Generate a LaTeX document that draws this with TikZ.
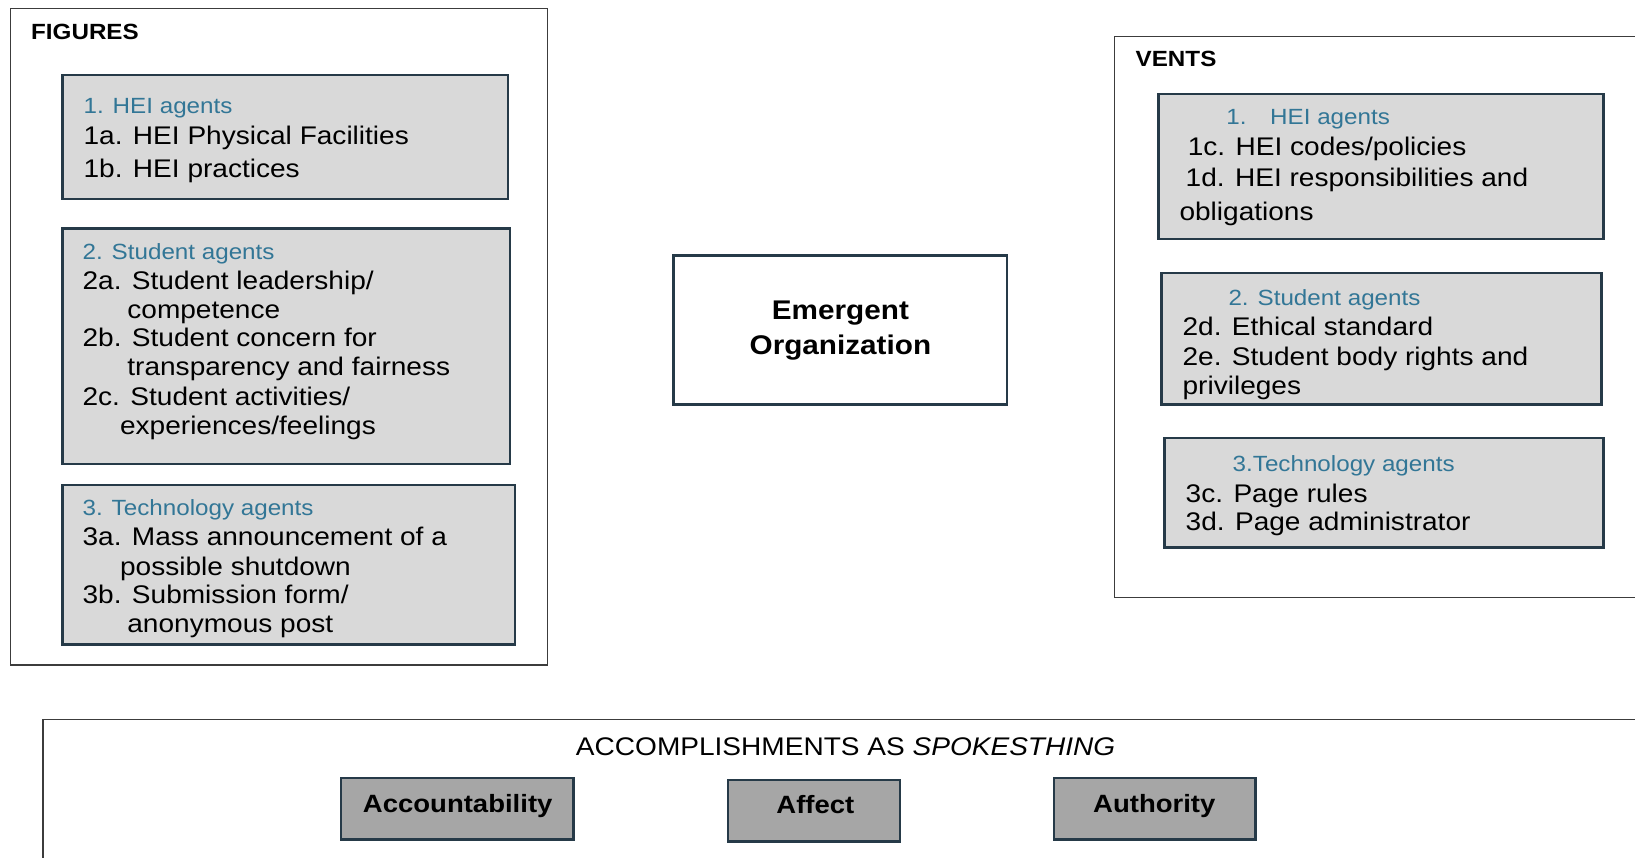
\documentclass[tikz,border=0pt]{standalone}
\usepackage{fontspec}
\setmainfont{Liberation Sans}[FakeStretch=1.1]
\usetikzlibrary{fit}
\definecolor{boxgray}{RGB}{217,217,217}
\definecolor{accgray}{RGB}{166,166,166}
\definecolor{slate}{RGB}{38,58,72}
\definecolor{headblue}{RGB}{50,118,150}
\definecolor{outerline}{RGB}{60,60,60}
\begin{document}
\begin{tikzpicture}[x=1pt,y=-1pt,
  outerbox/.style={draw=outerline, line width=1.5pt, inner sep=0pt},
  agentbox/.style={draw=slate, fill=boxgray, line width=2.5pt, inner sep=0pt},
  centerbox/.style={draw=slate, fill=white, line width=2.5pt, inner sep=0pt},
  accbox/.style={draw=slate, fill=accgray, line width=2.5pt, inner sep=0pt},
  itemline/.style={anchor=west, inner sep=0pt, text height=16.8pt, text depth=0pt, font=\fontsize{25.5}{30}\selectfont},
  headline/.style={anchor=west, inner sep=0pt, text height=14.5pt, text depth=0pt, text=headblue, font=\fontsize{22}{26}\selectfont},
  grouptitle/.style={anchor=west, inner sep=0pt, text height=15pt, text depth=0pt, font=\bfseries\fontsize{22}{26}\selectfont},
  acctext/.style={anchor=center, inner sep=0pt, text height=16.5pt, text depth=0pt, font=\bfseries\fontsize{25}{30}\selectfont},
]
\clip (0,0) rectangle (1635,857);
\fill[white] (0,0) rectangle (1635,857);

% FIGURES group
\node[outerbox, fit={(10.4,8.3) (547.4,665.2)}] (figs) {};
\node[grouptitle] (figstitle) at (31,32) {FIGURES};

\node[agentbox, fit={(62.6,75) (507.8,199.2)}] (fa) {};
\node[headline] (fah) at (83.4,106) {1. HEI agents};
\node[itemline] (fa1) at (83.4,136.5) {1a. HEI Physical Facilities};
\node[itemline] (fa2) at (83.4,169.5) {1b. HEI practices};

\node[agentbox, fit={(62.6,228.3) (509.9,464)}] (fb) {};
\node[headline] (fbh) at (82.4,252) {2. Student agents};
\node[itemline] (fb1) at (82.4,281) {2a. Student leadership/};
\node[itemline] (fb1b) at (127.2,310.2) {competence};
\node[itemline] (fb2) at (82.4,338.3) {2b. Student concern for};
\node[itemline] (fb2b) at (127.2,367.5) {transparency and fairness};
\node[itemline] (fb3) at (82.4,396.7) {2c. Student activities/};
\node[itemline] (fb3b) at (119.9,425.9) {experiences/feelings};

\node[agentbox, fit={(62.6,484.9) (515.1,644.4)}] (fc) {};
\node[headline] (fch) at (82.4,508.3) {3. Technology agents};
\node[itemline] (fc1) at (82.4,537.5) {3a. Mass announcement of a};
\node[itemline] (fc1b) at (119.9,566.7) {possible shutdown};
\node[itemline] (fc2) at (82.4,594.8) {3b. Submission form/};
\node[itemline] (fc2b) at (127.2,624) {anonymous post};

% Emergent organization
\node[centerbox, fit={(673.6,255.5) (1007.2,404.6)}] (emerg) {};
\node[align=center, inner sep=0pt, font=\bfseries\fontsize{27}{35}\selectfont, yshift=-0.5pt] (emergtext) at (emerg.center) {Emergent\\Organization};

% VENTS group
\node[outerbox, fit={(1114.6,36.5) (1660,597.5)}] (vents) {};
\node[grouptitle] (ventstitle) at (1135.5,59) {VENTS};

\node[agentbox, fit={(1158.4,93.8) (1603.7,238.8)}] (va) {};
\node[headline] (vah) at (1226.2,117.3) {1.\hspace{23.6pt}HEI agents};
\node[itemline] (va1) at (1187.6,147.5) {1c. HEI codes/policies};
\node[itemline] (va2) at (1185.5,177.8) {1d. HEI responsibilities and};
\node[itemline] (va2b) at (1179.3,212.2) {obligations};

\node[agentbox, fit={(1161.6,273.2) (1601.6,404.6)}] (vb) {};
\node[headline] (vbh) at (1228.3,298.7) {2. Student agents};
\node[itemline] (vb1) at (1182.4,326.9) {2d. Ethical standard};
\node[itemline] (vb2) at (1182.4,357.1) {2e. Student body rights and};
\node[itemline] (vb2b) at (1182.4,386.3) {privileges};

\node[agentbox, fit={(1164.7,437.9) (1603.7,547.4)}] (vc) {};
\node[headline] (vch) at (1232.5,464.5) {3.Technology agents};
\node[itemline] (vc1) at (1185.5,493.7) {3c. Page rules};
\node[itemline] (vc2) at (1185.5,521.9) {3d. Page administrator};

% Accomplishments
\node[outerbox, fit={(42.8,719.5) (1660,880)}] (accomp) {};
\node[anchor=center, inner sep=0pt, text height=16.8pt, text depth=0pt, font=\fontsize{25.5}{30}\selectfont] (accomptitle) at (845.6,747) {ACCOMPLISHMENTS AS \textit{SPOKESTHING}};

\node[accbox, fit={(341,777.9) (573.5,839.4)}] (acc) {};
\node[acctext] (acctxt) at (457.7,804.5) {Accountability};
\node[accbox, fit={(727.8,780) (899.9,841.5)}] (aff) {};
\node[acctext] (afftxt) at (815.4,805.5) {Affect};
\node[accbox, fit={(1054.2,777.9) (1255.4,839.4)}] (auth) {};
\node[acctext] (authtxt) at (1154.3,804.5) {Authority};
\end{tikzpicture}
\end{document}
